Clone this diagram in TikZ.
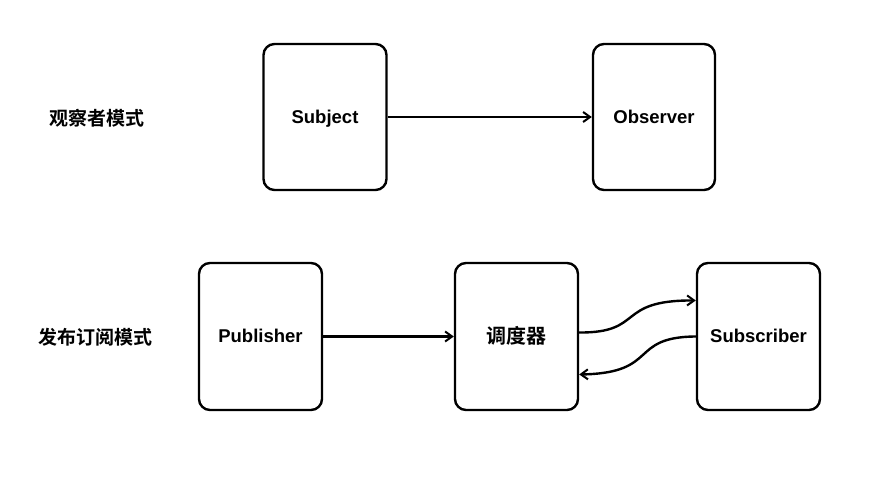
\documentclass[tikz,border=0pt]{standalone}
\usepackage{fontspec}
\setmainfont{Liberation Sans}
\newfontfamily\cjk{Noto Sans CJK SC Bold}
\usetikzlibrary{arrows.meta}
\tikzset{
  sketchbox/.style={draw=black, line width=2.4pt, rounded corners=11pt, minimum width=123pt, minimum height=146pt, inner sep=0pt, text height=13pt, text depth=0pt, font=\fontsize{18.5}{20}\selectfont\bfseries},
  lbl/.style={font=\fontsize{19}{21}\selectfont\cjk, inner sep=0pt},
  conn/.style={line width=2.4pt, -{Straight Barb[length=7pt,width=10pt,line width=2pt]}},
}
\begin{document}
\begin{tikzpicture}[x=1pt,y=-1pt]
\useasboundingbox (0,0) rectangle (871,478);
\node[lbl] (t1) at (97,118) {观察者模式};
\node[lbl] (t2) at (95,337) {发布订阅模式};
\node[sketchbox] (subj) at (325,117) {Subject};
\node[sketchbox, minimum width=122pt] (obs) at (654,117) {Observer};
\node[sketchbox, minimum height=147pt] (pub) at (260.5,336.5) {Publisher};
\node[sketchbox, minimum height=147pt, text height=15pt, font=\fontsize{20}{22}\selectfont\cjk] (disp) at (516.5,336.5) {调度器};
\node[sketchbox, minimum height=147pt] (sub) at (758.5,336.5) {Subscriber};
\draw[conn] (subj.east) -- (obs.west);
\draw[conn] (pub.east) -- (disp.west);
\coordinate (d1) at ([yshift=4pt]disp.east);
\coordinate (s1) at ([yshift=36pt]sub.west);
\draw[conn] (d1) .. controls (645,333) and (615,300) .. (s1);
\coordinate (s2) at (sub.west);
\coordinate (d2) at ([yshift=-38pt]disp.east);
\draw[conn] (s2) .. controls (628,337) and (660,373) .. (d2);
\end{tikzpicture}
\end{document}
